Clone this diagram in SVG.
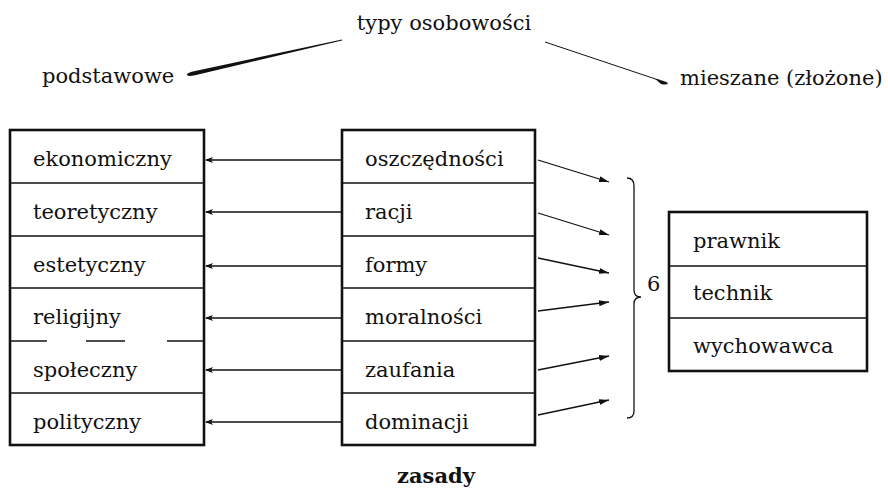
<svg xmlns="http://www.w3.org/2000/svg" width="888" height="489" viewBox="0 0 888 489">
<style>
text{font-family:"DejaVu Serif","Liberation Serif",serif;font-size:21px;fill:#111}
.box{fill:#fff;stroke:#111;stroke-width:2.6}
.div{stroke:#111;stroke-width:1.5}
.arr{stroke:#111;stroke-width:1.3;fill:none}
.b{font-weight:bold}
</style>
<defs>
<marker id="ml" viewBox="0 0 8 6" refX="7" refY="3" markerWidth="8" markerHeight="6" markerUnits="userSpaceOnUse" orient="auto">
<path d="M0,0 L8,3 L0,6 L2,3 Z" fill="#111"/>
</marker>
<marker id="mr" viewBox="0 0 10 6" refX="10" refY="3" markerWidth="10" markerHeight="6" markerUnits="userSpaceOnUse" orient="auto">
<path d="M0,0 L10,3 L0,6 Z" fill="#111"/>
</marker>
</defs>
<g id="title">
<text x="444" y="30" text-anchor="middle">typy osobowości</text>
</g>
<g id="podstawowe">
<text x="42" y="83">podstawowe</text>
</g>
<g id="mieszane">
<text x="680" y="85">mieszane (złożone)</text>
</g>
<g id="connectors-top">
<path d="M342,39.4 L194,71.2 Q186,73 187,75.2 Q189,76.8 195,75.2 L342,40.6 Z" fill="#111"/>
<path d="M545,42 L660,80.5" stroke="#111" stroke-width="1"/>
<path d="M655,78.8 Q664,80.5 668,83 Q667,85.5 661,84 Z" fill="#111"/>
</g>
<g id="types">
<rect class="box" x="10" y="130" width="194" height="315"/>
<line class="div" x1="10" y1="183" x2="204" y2="183"/>
<line class="div" x1="10" y1="236" x2="204" y2="236"/>
<line class="div" x1="10" y1="288" x2="204" y2="288"/>
<line class="div" x1="10" y1="341" x2="47" y2="341"/>
<line class="div" x1="86" y1="341" x2="125" y2="341"/>
<line class="div" x1="167" y1="341" x2="204" y2="341"/>
<line class="div" x1="10" y1="393" x2="204" y2="393"/>
<text x="33" y="166">ekonomiczny</text>
<text x="33" y="219">teoretyczny</text>
<text x="33" y="272">estetyczny</text>
<text x="33" y="324">religijny</text>
<text x="33" y="377">społeczny</text>
<text x="33" y="429">polityczny</text>
</g>
<g id="zasady">
<rect class="box" x="342" y="130" width="193" height="315"/>
<line class="div" x1="342" y1="183" x2="535" y2="183"/>
<line class="div" x1="342" y1="236" x2="535" y2="236"/>
<line class="div" x1="342" y1="288" x2="535" y2="288"/>
<line class="div" x1="342" y1="341" x2="535" y2="341"/>
<line class="div" x1="342" y1="393" x2="535" y2="393"/>
<text x="365" y="166">oszczędności</text>
<text x="365" y="219">racji</text>
<text x="365" y="272">formy</text>
<text x="365" y="324">moralności</text>
<text x="365" y="377">zaufania</text>
<text x="365" y="429">dominacji</text>
</g>
<g id="mixed">
<rect class="box" x="669" y="212" width="198" height="159"/>
<line class="div" x1="669" y1="266" x2="867" y2="266"/>
<line class="div" x1="669" y1="318" x2="867" y2="318"/>
<text x="693" y="248">prawnik</text>
<text x="693" y="300">technik</text>
<text x="693" y="353">wychowawca</text>
</g>
<g id="brace">
<path d="M627,178 Q634,178 634,186 L634,290 Q634,297 641,297 Q634,297 634,304 L634,411 Q634,418 627,418" fill="none" stroke="#111" stroke-width="1.3"/>
<text x="647" y="291">6</text>
</g>
<g id="connectors">
<line class="arr" x1="342" y1="160" x2="206" y2="160" marker-end="url(#ml)"/>
<line class="arr" x1="342" y1="212" x2="206" y2="212" marker-end="url(#ml)"/>
<line class="arr" x1="342" y1="266" x2="206" y2="266" marker-end="url(#ml)"/>
<line class="arr" x1="342" y1="318" x2="206" y2="318" marker-end="url(#ml)"/>
<line class="arr" x1="342" y1="370" x2="206" y2="370" marker-end="url(#ml)"/>
<line class="arr" x1="342" y1="422" x2="206" y2="422" marker-end="url(#ml)"/>
<line class="arr" x1="538" y1="160" x2="609" y2="182" marker-end="url(#mr)"/>
<line class="arr" x1="538" y1="213" x2="609" y2="235" marker-end="url(#mr)"/>
<line class="arr" x1="538" y1="258" x2="609" y2="273" marker-end="url(#mr)"/>
<line class="arr" x1="538" y1="311" x2="609" y2="302" marker-end="url(#mr)"/>
<line class="arr" x1="538" y1="370" x2="609" y2="356" marker-end="url(#mr)"/>
<line class="arr" x1="538" y1="415" x2="609" y2="400" marker-end="url(#mr)"/>
</g>
<g id="label">
<text class="b" x="436" y="483" text-anchor="middle">zasady</text>
</g>
</svg>
